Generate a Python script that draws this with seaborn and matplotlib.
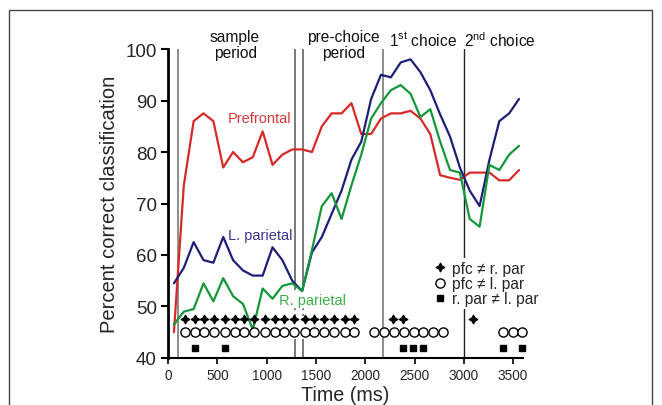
import matplotlib
matplotlib.use("Agg")
import matplotlib.pyplot as plt
import seaborn as sns
import pandas as pd
from matplotlib.lines import Line2D
from matplotlib.patches import Rectangle

# ---- data ----
time_ms = [60, 160, 260, 360, 460, 560, 660, 760, 860, 960, 1060, 1160, 1260, 1360,
           1460, 1560, 1660, 1760, 1860, 1960, 2060, 2160, 2260, 2360, 2460, 2560,
           2660, 2760, 2860, 2960, 3060, 3160, 3260, 3360, 3460, 3560]
prefrontal = [45, 73.5, 86, 87.5, 86, 77, 80, 78, 79, 84, 77.5, 79.5, 80.5, 80.5,
              80, 85, 87.5, 87.5, 89.5, 83.5, 83.5, 86.5, 87.5, 87.5, 88, 86.5,
              83.5, 75.5, 75, 74.6, 76, 76, 76, 74.5, 74.5, 76.5]
l_parietal = [54.5, 57.5, 62.5, 59, 58.5, 63.5, 59, 57, 56, 56, 61.5, 59, 55, 53,
              60.5, 63.5, 68, 72.5, 78.5, 82, 90.3, 95, 94.5, 97.4, 98, 95.5,
              92, 87.3, 83, 77, 72.5, 69.5, 78.5, 86, 87.5, 90.3]
r_parietal = [46.5, 49, 49.5, 54.5, 51, 55.5, 52, 50.5, 45.5, 53.5, 51.5, 54, 54.5, 53,
              61, 69.5, 72, 67, 73.5, 79.5, 86.5, 89.5, 92, 93, 91.3, 86.8,
              88.3, 82, 76.5, 76, 67, 65.5, 77.5, 76.5, 79.5, 81.2]

pfc_ne_rpar_t = [170, 270, 370, 470, 575, 675, 775, 875, 980, 1080, 1180, 1280,
                 1385, 1485, 1585, 1685, 1790, 1890, 2285, 2380, 3090]
pfc_ne_lpar_t = [170, 270, 370, 470, 575, 675, 775, 875, 980, 1080, 1180, 1280,
                 1385, 1485, 1585, 1685, 1790, 1890, 2090, 2190, 2290, 2390, 2490,
                 2590, 2690, 2790, 3395, 3495, 3595]
rpar_ne_lpar_t = [270, 575, 2380, 2485, 2585, 3395, 3595]
marker_levels = [47.5, 45.0, 42.0]

event_lines = [100, 1290, 1368, 2180, 3000]
period_labels = ["sample\nperiod", "pre-choice\nperiod", "1$^{\\rm st}$ choice", "2$^{\\rm nd}$ choice"]
period_x = [680, 1776, 2590, 3368]
period_y = [100.9, 100.9, 101.9, 101.9]
yticks = [40, 50, 60, 70, 80, 90, 100]
xticks = [0, 500, 1000, 1500, 2000, 2500, 3000, 3500]

colors = {"Prefrontal": "#d62a28", "L. parietal": "#1e1e78", "R. parietal": "#13973a"}

df = pd.DataFrame({
    "time": time_ms * 3,
    "value": prefrontal + l_parietal + r_parietal,
    "area": ["Prefrontal"] * len(time_ms) + ["L. parietal"] * len(time_ms) + ["R. parietal"] * len(time_ms),
})

sns.set_theme(style="white")
plt.rcParams["font.family"] = ["Liberation Sans", "DejaVu Sans"]
plt.rcParams["mathtext.fontset"] = "custom"
plt.rcParams["mathtext.rm"] = "Liberation Sans"

fig = plt.figure(figsize=(6.62, 4.06), dpi=100)
ax = fig.add_axes([0.2538, 0.1158, 0.790 - 0.2538, 0.8768 - 0.1158])

# event lines
for x in event_lines:
    if x in (1290, 1368):
        ax.vlines(x, 53.2, 100, color="#7a7a7a", lw=1.4, zorder=1)
        ax.vlines(x, 48.2, 49.8, color="#7a7a7a", lw=1.4, linestyles=(0, (1, 2)), zorder=1)
        ax.vlines(x, 40, 43.6, color="#7a7a7a", lw=1.4, zorder=1)
    elif x == 3000:
        ax.axvline(x, color="#222222", lw=1.0, zorder=1)
    else:
        ax.axvline(x, color="#7a7a7a", lw=1.2, zorder=1)

sns.lineplot(data=df, x="time", y="value", hue="area", palette=colors,
             linewidth=1.6, legend=False, ax=ax, zorder=3)

# significance markers
ax.plot(pfc_ne_rpar_t, [marker_levels[0]] * len(pfc_ne_rpar_t), ls="none",
        marker=(4, 1, 0), ms=6.5, color="black", mew=0.8, zorder=4, clip_on=False)
ax.plot(pfc_ne_lpar_t, [marker_levels[1]] * len(pfc_ne_lpar_t), ls="none",
        marker="o", ms=6.6, mfc="white", mec="black", mew=1.0, zorder=4, clip_on=False)
ax.plot(rpar_ne_lpar_t, [marker_levels[2]] * len(rpar_ne_lpar_t), ls="none",
        marker="s", ms=5.0, color="black", zorder=4, clip_on=False)

# series labels
ax.text(925, 86.7, "Prefrontal", color="#d43a36", fontsize=10.5, ha="center", va="center")
ax.text(940, 63.8, "L. parietal", color="#35358a", fontsize=10.5, ha="center", va="center")
ax.text(1470, 51.2, "R. parietal", color="#3caf48", fontsize=10.5, ha="center", va="center")

for lab, x, y in zip(period_labels, period_x, period_y):
    ax.text(x, y, lab, ha="center", va="center", fontsize=11.2, color="#111111",
            linespacing=1.05, clip_on=False)

handles = [
    Line2D([], [], ls="none", marker=(4, 1, 0), ms=6.5, color="black", mew=0.8),
    Line2D([], [], ls="none", marker="o", ms=6.6, mfc="white", mec="black", mew=1.0),
    Line2D([], [], ls="none", marker="s", ms=5.0, color="black"),
]
leg = ax.legend(handles, ["pfc \u2260 r. par", "pfc \u2260 l. par", "r. par \u2260 l. par"],
                loc="upper left", bbox_to_anchor=(0.742, 0.322), frameon=True,
                fontsize=11.2, handlelength=0.8, handletextpad=0.4, labelspacing=0.02,
                borderpad=0.15, borderaxespad=0)
leg.get_frame().set_facecolor("white")
leg.get_frame().set_edgecolor("none")
leg.get_frame().set_alpha(1)
leg.set_zorder(5)

ax.set_xlim(0, 3600)
ax.set_ylim(40, 100)
ax.set_xticks(xticks)
ax.set_yticks(yticks)
ax.tick_params(axis="y", labelsize=13.5, direction="out", length=5, width=1.5, color="black", left=True, pad=3)
ax.tick_params(axis="x", labelsize=9.8, direction="out", length=4, width=1.2, color="black", bottom=True, pad=3)
ax.set_xlabel("Time (ms)", fontsize=14.2, labelpad=2.5)
ax.set_ylabel("Percent correct classification", fontsize=14.5, labelpad=5)
for side in ["top", "right"]:
    ax.spines[side].set_visible(False)
ax.spines["left"].set_linewidth(2.0)
ax.spines["bottom"].set_linewidth(1.5)
ax.spines["left"].set_color("black")
ax.spines["bottom"].set_color("black")

# figure frame
fig.patches.append(Rectangle((9 / 662, -0.05), (652 - 9) / 662, 1.05 - 11 / 406,
                             transform=fig.transFigure, fill=False, edgecolor="#444444", lw=1.0))

fig.savefig("out.png", dpi=100)
